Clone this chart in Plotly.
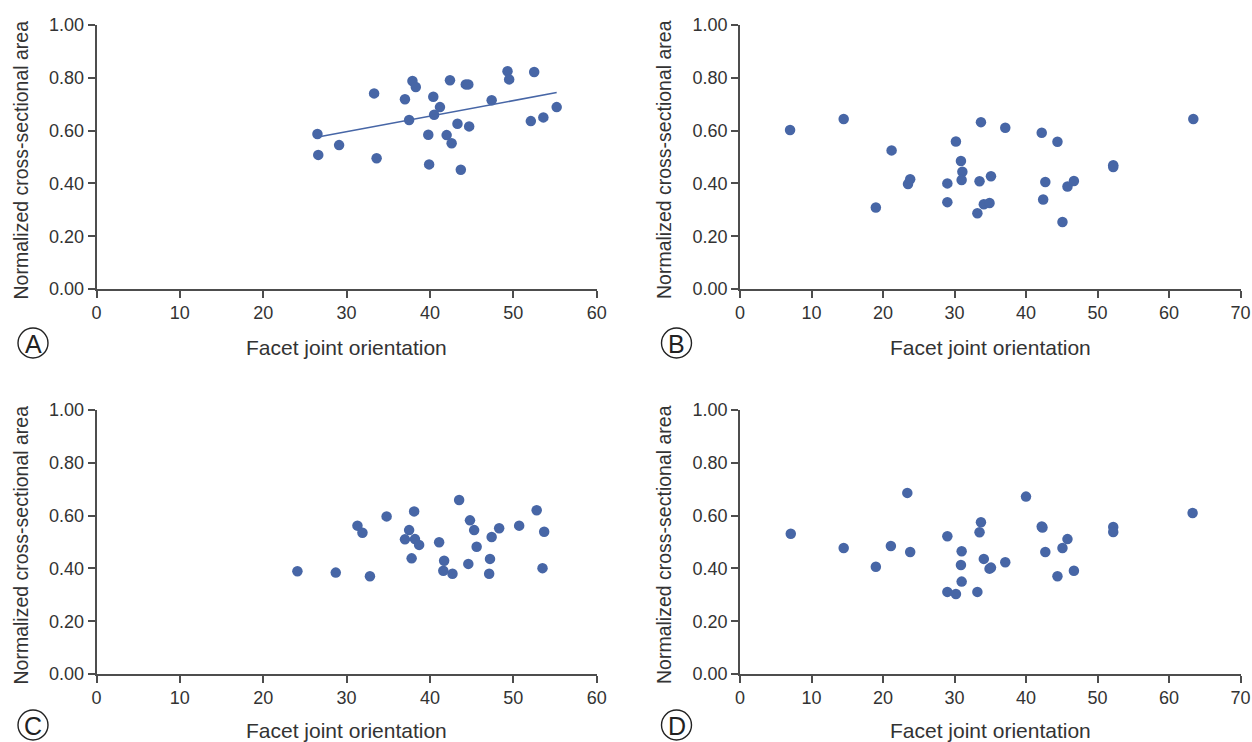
import plotly.graph_objects as go

# ---------------- data ----------------
a_x = [26.5, 26.6, 29.1, 33.3, 33.6, 37.0, 37.5, 37.9, 38.3, 39.8, 39.9, 40.4, 40.5, 41.2,
       42.0, 42.4, 42.6, 43.3, 43.7, 44.3, 44.6, 44.7, 47.4, 49.3, 49.5, 52.1, 52.5, 53.6, 55.2]
a_y = [0.587, 0.508, 0.545, 0.741, 0.495, 0.719, 0.640, 0.788, 0.765, 0.584, 0.472, 0.728,
       0.660, 0.689, 0.583, 0.791, 0.552, 0.626, 0.452, 0.775, 0.775, 0.616, 0.715, 0.825,
       0.794, 0.636, 0.822, 0.650, 0.689]
a_trend_x = [26.4, 55.2]
a_trend_y = [0.575, 0.744]

b_x = [7.0, 14.5, 19.0, 21.2, 23.5, 23.8, 29.0, 29.0, 30.2, 30.9, 31.1, 31.0, 33.2, 33.5,
       33.7, 34.1, 34.9, 35.1, 37.1, 42.2, 42.4, 42.7, 44.4, 45.1, 45.8, 46.7, 52.2, 52.2, 63.4]
b_y = [0.602, 0.644, 0.309, 0.525, 0.398, 0.416, 0.329, 0.400, 0.559, 0.485, 0.444, 0.413,
       0.287, 0.408, 0.632, 0.321, 0.326, 0.427, 0.611, 0.592, 0.339, 0.405, 0.558, 0.254,
       0.388, 0.409, 0.469, 0.462, 0.644]

c_x = [24.1, 28.7, 32.8, 31.3, 31.9, 34.8, 37.5, 37.0, 38.2, 38.7, 38.1, 37.8, 41.1, 41.7,
       41.6, 42.7, 43.5, 44.8, 45.3, 44.6, 45.6, 47.4, 47.2, 47.1, 48.3, 50.7, 52.8, 53.7, 53.5]
c_y = [0.389, 0.384, 0.370, 0.562, 0.535, 0.597, 0.545, 0.510, 0.511, 0.489, 0.616, 0.438,
       0.499, 0.429, 0.391, 0.380, 0.659, 0.582, 0.545, 0.417, 0.482, 0.519, 0.436, 0.380,
       0.552, 0.562, 0.620, 0.539, 0.401]

d_x = [7.1, 14.5, 19.0, 21.1, 23.4, 23.8, 29.0, 29.0, 30.2, 31.0, 30.9, 31.0, 33.2, 33.5,
       33.7, 34.1, 34.9, 35.1, 37.1, 40.0, 42.2, 42.3, 42.7, 44.4, 45.1, 45.8, 46.7, 52.2, 52.2, 63.3]
d_y = [0.531, 0.477, 0.406, 0.485, 0.686, 0.462, 0.522, 0.311, 0.303, 0.465, 0.413, 0.350,
       0.311, 0.537, 0.575, 0.436, 0.399, 0.403, 0.423, 0.672, 0.559, 0.555, 0.462, 0.370,
       0.477, 0.511, 0.391, 0.557, 0.538, 0.610]

y_ticks = [0.0, 0.2, 0.4, 0.6, 0.8, 1.0]
y_ticklabels = ["0.00", "0.20", "0.40", "0.60", "0.80", "1.00"]
x_title = "Facet joint orientation"
y_title = "Normalized cross-sectional area"
panel_letters = ["A", "B", "C", "D"]

# ---------------- layout geometry (page pixels) ----------------
W, H = 1252, 742
def px_x(v):
    return v / W
def px_y(v):
    return 1 - v / H

BLUE = "#4766a6"
AXC = "#4d4d4d"
TXT = "#333333"
FONT = "Liberation Sans, Arial, Helvetica, sans-serif"

panels = [
    (a_x, a_y, 60, 96.5, 596.7, 25, 289),
    (b_x, b_y, 70, 740.0, 1240.5, 25, 289),
    (c_x, c_y, 60, 96.5, 596.7, 410, 674),
    (d_x, d_y, 70, 740.0, 1240.5, 410, 674),
]

fig = go.Figure()
annotations = []
shapes = []

for i, (xs, ys, xmax, left, right, top, bottom) in enumerate(panels):
    n = "" if i == 0 else str(i + 1)
    fig.add_trace(go.Scatter(
        x=xs, y=ys, mode="markers",
        marker=dict(color=BLUE, size=10.5, line=dict(width=0)),
        xaxis="x" + n, yaxis="y" + n, showlegend=False, cliponaxis=False))
    if i == 0:
        fig.add_trace(go.Scatter(
            x=a_trend_x, y=a_trend_y, mode="lines",
            line=dict(color=BLUE, width=1.5),
            xaxis="x", yaxis="y", showlegend=False))
    axis_common = dict(showgrid=False, zeroline=False, showline=True,
                       linecolor=AXC, linewidth=1.6, ticks="outside",
                       ticklen=7, tickwidth=1.6, tickcolor=AXC, automargin=False,
                       tickfont=dict(family=FONT, size=18, color=TXT))
    fig.update_layout(**{
        "xaxis" + n: dict(domain=[px_x(left), px_x(right)], range=[0, xmax],
                          dtick=10, tick0=0, anchor="y" + n, **axis_common),
        "yaxis" + n: dict(domain=[px_y(bottom), px_y(top)], range=[0, 1],
                          tickvals=y_ticks, ticktext=y_ticklabels,
                          anchor="x" + n, **axis_common),
    })
    title_dy = 59 if i < 2 else 56
    annotations.append(dict(
        text=x_title, xref="paper", yref="paper",
        x=px_x((left + right) / 2), y=px_y(bottom + title_dy),
        showarrow=False, xanchor="center", yanchor="middle",
        font=dict(family=FONT, size=21, color=TXT)))
    annotations.append(dict(
        text=y_title, xref="paper", yref="paper",
        x=px_x(left - 76), y=px_y((top + bottom) / 2 + 3),
        showarrow=False, xanchor="center", yanchor="middle", textangle=-90,
        font=dict(family=FONT, size=19.5, color=TXT)))
    letter_dy = 54 if i < 2 else 51
    cx, cy, r = left - 63.5, bottom + letter_dy, 15.0
    shapes.append(dict(type="circle", xref="paper", yref="paper",
                       x0=px_x(cx - r), x1=px_x(cx + r),
                       y0=px_y(cy + r), y1=px_y(cy - r),
                       line=dict(color="#222222", width=1.4)))
    annotations.append(dict(
        text=panel_letters[i], xref="paper", yref="paper",
        x=px_x(cx), y=px_y(cy + 1), showarrow=False,
        xanchor="center", yanchor="middle",
        font=dict(family=FONT, size=25, color="#222222")))

fig.update_layout(
    width=W, height=H, margin=dict(l=0, r=0, t=0, b=0, pad=0, autoexpand=False),
    paper_bgcolor="white", plot_bgcolor="white", showlegend=False,
    annotations=annotations, shapes=shapes,
)

fig.write_html(
    "out.html",
    config={"displayModeBar": False},
    post_script="document.body.style.margin='0px';"
                "document.body.style.overflow='hidden';"
                "document.documentElement.style.overflow='hidden';",
)
